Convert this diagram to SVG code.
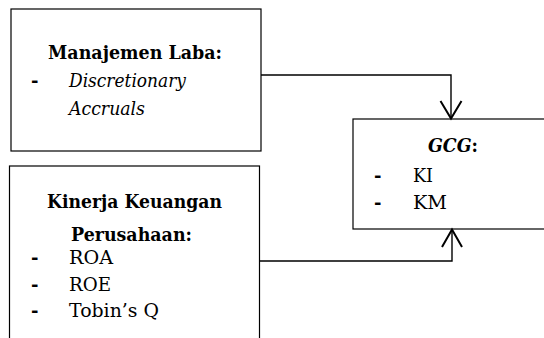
<svg xmlns="http://www.w3.org/2000/svg" width="544" height="338" viewBox="0 0 544 338">
<style>
.box{fill:#fff;stroke:#000;stroke-width:1.2}
text{font-family:"DejaVu Serif","Liberation Serif",serif;font-size:18px;fill:#000}
.b{font-weight:bold}
.i{font-style:italic}
.conn{fill:none;stroke:#000;stroke-width:1.4}
.head{fill:none;stroke:#000;stroke-width:2}
</style>
<rect width="544" height="338" fill="#fff"/>
<g id="node-manajemen">
<rect class="box" x="11" y="9" width="250" height="142"/>
<text class="b" x="48" y="58.5" textLength="174" lengthAdjust="spacingAndGlyphs">Manajemen Laba:</text>
<text class="b" x="31" y="87">-</text>
<text class="i" x="69" y="87" textLength="117" lengthAdjust="spacingAndGlyphs">Discretionary</text>
<text class="i" x="69" y="114.5" textLength="76" lengthAdjust="spacingAndGlyphs">Accruals</text>
</g>
<g id="node-kinerja">
<rect class="box" x="9.5" y="166" width="250" height="190"/>
<text class="b" x="47" y="208" textLength="175" lengthAdjust="spacingAndGlyphs">Kinerja Keuangan</text>
<text class="b" x="71" y="241" textLength="121" lengthAdjust="spacingAndGlyphs">Perusahaan:</text>
<text class="b" x="31" y="264">-</text>
<text x="69" y="264" textLength="44" lengthAdjust="spacingAndGlyphs">ROA</text>
<text class="b" x="31" y="290.5">-</text>
<text x="69" y="290.5" textLength="42" lengthAdjust="spacingAndGlyphs">ROE</text>
<text class="b" x="31" y="317">-</text>
<text x="69" y="317" textLength="90" lengthAdjust="spacingAndGlyphs">Tobin’s Q</text>
</g>
<g id="node-gcg">
<rect class="box" x="353" y="119" width="200" height="110"/>
<text class="b" x="428" y="151.5" textLength="50" lengthAdjust="spacingAndGlyphs"><tspan class="i">GCG</tspan>:</text>
<text class="b" x="374" y="181.5">-</text>
<text x="413" y="181.5" textLength="20" lengthAdjust="spacingAndGlyphs">KI</text>
<text class="b" x="374" y="209">-</text>
<text x="413" y="209" textLength="34" lengthAdjust="spacingAndGlyphs">KM</text>
</g>
<g id="connectors">
<polyline class="conn" points="261,75 451,75 451,118"/>
<polyline class="head" points="440.5,101 451,118.5 461.5,101"/>
<polyline class="conn" points="259.5,261 452,261 452,230"/>
<polyline class="head" points="442,247 452,229.5 462,247"/>
</g>
</svg>
